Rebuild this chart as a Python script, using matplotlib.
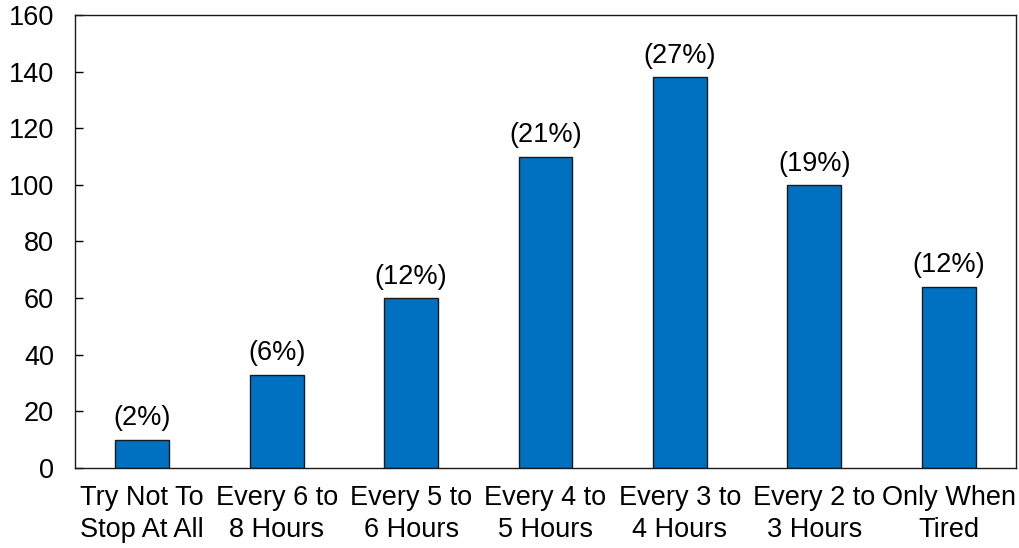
import matplotlib
matplotlib.use("Agg")
import matplotlib.pyplot as plt

categories = ["Try Not To\nStop At All", "Every 6 to\n8 Hours", "Every 5 to\n6 Hours",
              "Every 4 to\n5 Hours", "Every 3 to\n4 Hours", "Every 2 to\n3 Hours", "Only When\nTired"]
values = [10, 33, 60, 110, 138, 100, 64]
pct_labels = ["(2%)", "(6%)", "(12%)", "(21%)", "(27%)", "(19%)", "(12%)"]
yticks = [0, 20, 40, 60, 80, 100, 120, 140, 160]

plt.rcParams['font.family'] = ['Liberation Sans', 'DejaVu Sans']
FS = 19.5

fig = plt.figure(figsize=(10.19, 5.48), dpi=100)
ax = fig.add_axes([75/1019, 1-468/548, (1016-75)/1019, (468-15)/548])

x = list(range(len(categories)))
bars = ax.bar(x, values, width=0.4, color="#0070C0", edgecolor="#1a1a1a", linewidth=1)
for xi, v, lab in zip(x, values, pct_labels):
    ax.annotate(lab, (xi, v), xytext=(0, 6), textcoords="offset points",
                ha="center", va="bottom", fontsize=FS)

ax.set_xlim(-0.5, len(categories) - 0.5)
ax.set_ylim(0, 160)
ax.set_yticks(yticks)
ax.set_xticks(x)
ax.set_xticklabels(categories, fontsize=FS, linespacing=1.3)
ax.tick_params(axis="y", direction="in", length=6, labelsize=FS, width=1, pad=15)
ax.tick_params(axis="x", length=0, pad=12)
for s in ax.spines.values():
    s.set_linewidth(1)
    s.set_color("#1a1a1a")

fig.savefig("out.png", dpi=100)
